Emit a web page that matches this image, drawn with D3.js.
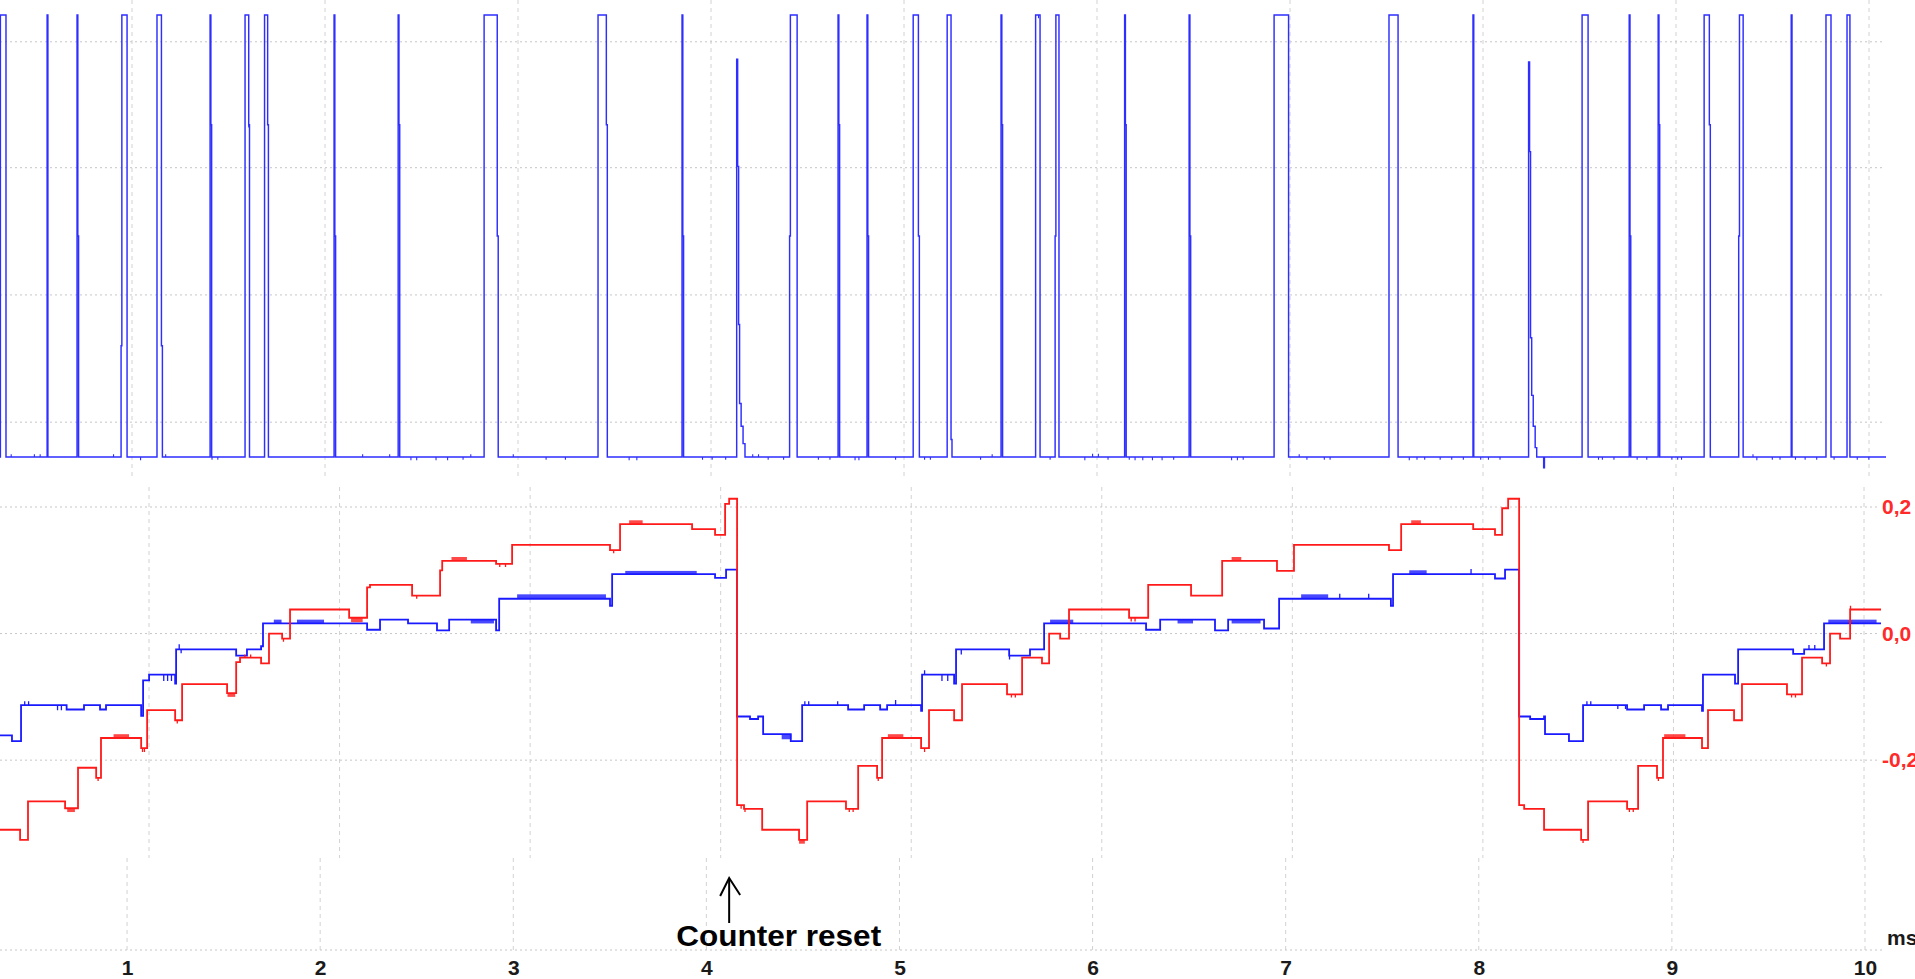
<!DOCTYPE html>
<html><head><meta charset="utf-8">
<script src="https://cdn.jsdelivr.net/npm/d3@7/dist/d3.min.js"></script>
<style>
html,body{margin:0;padding:0;background:#fff;overflow:hidden}
svg{display:block;background:#fff}
</style></head><body>
<svg id="chart" width="1915" height="979"></svg>
<script>
// ---------------- data (time in ms, values in V) ----------------
const xTicks = [1,2,3,4,5,6,7,8,9,10];
const xTickLabels = ["1","2","3","4","5","6","7","8","9","10"];
const xUnit = "ms";
const yTicks = [0.2, 0.0, -0.2];
const yTickLabels = ["0,2","0,0","-0,2"];
const topGridLevels = [0.26, 1.21, 2.16, 3.10];
const annotationTime = 4.118;
const annotationText = "Counter reset";

// digital signal (top panel), step-after points [t, V]
const topTrace = [
[0.342,0],[0.344,3.3],[0.373,0],
[0.586,3.3],[0.590,0],
[0.741,3.3],[0.745,1.65],[0.749,0],
[0.969,0.83],[0.973,3.3],[1.000,0],
[1.155,3.3],[1.178,0.83],[1.183,0],
[1.430,3.3],[1.434,2.48],[1.438,0],
[1.611,3.3],[1.630,2.48],[1.634,0],
[1.712,3.3],[1.728,2.48],[1.732,0],
[2.072,3.3],[2.076,1.65],[2.080,0],
[2.404,3.3],[2.408,2.48],[2.412,0],
[2.849,3.3],[2.917,1.65],[2.922,0],
[3.439,3.3],[3.482,2.48],[3.487,0],
[3.874,3.3],[3.878,1.65],[3.882,0],
[4.157,2.97],[4.162,2.17],[4.167,0.99],[4.172,0.40],[4.180,0.23],[4.190,0.10],[4.200,0],
[4.431,1.65],[4.435,3.3],[4.470,0],
[4.682,3.3],[4.686,2.48],[4.690,0],
[4.832,3.3],[4.836,1.65],[4.840,0],
[5.071,3.3],[5.098,1.65],[5.103,0],
[5.247,3.3],[5.267,0.13],[5.272,0],
[5.526,3.3],[5.530,2.48],[5.534,0],
[5.705,3.3],[5.728,0],
[5.806,1.65],[5.810,3.3],[5.826,0],
[6.166,3.3],[6.170,2.48],[6.174,0],
[6.500,3.3],[6.504,1.65],[6.508,0],
[6.940,3.3],[7.015,0],
[7.535,3.3],[7.582,0],
[7.970,3.3],[7.974,0],
[8.258,2.95],[8.263,2.28],[8.268,0.89],[8.274,0.46],[8.282,0.23],[8.292,0.07],[8.300,0],[8.336,-0.08],[8.340,0],
[8.535,3.3],[8.566,0],
[8.779,3.3],[8.783,1.65],[8.787,0],
[8.929,3.3],[8.933,2.48],[8.937,0],
[9.167,3.3],[9.194,2.48],[9.199,0],
[9.346,1.65],[9.350,3.3],[9.369,0],
[9.618,3.3],[9.622,0],
[9.798,3.3],[9.824,0],
[9.907,3.3],[9.922,0],
[10.109,0]
];
// small glitches on the low level of the digital signal [t, offset V]
const topGlitches = [
[0.40,0.02],[0.52,0.02],[0.55,0.02],[0.93,0.02],[1.07,-0.025],[1.20,0.02],[1.44,-0.02],[1.47,-0.02],[1.63,-0.02],
[2.22,0.02],[2.36,0.02],[2.47,-0.025],[2.50,-0.025],[2.60,-0.025],[2.66,-0.025],[2.74,-0.02],[2.78,0.02],
[3.00,0.02],[3.17,-0.02],[3.27,-0.02],[3.60,-0.025],[3.64,-0.025],[3.98,-0.02],[4.03,-0.02],[4.10,-0.02],
[4.24,0.02],[4.27,0.02],[4.32,-0.02],[4.40,-0.02],[4.58,-0.02],[4.64,-0.02],[4.69,0.025],[4.77,-0.025],[4.79,-0.025],
[4.98,-0.02],[5.13,-0.02],[5.16,-0.02],[5.42,-0.02],[5.48,0.02],[5.72,-0.025],[5.78,-0.02],
[5.96,-0.025],[6.00,0.025],[6.03,0.025],[6.08,-0.02],[6.19,-0.02],[6.22,-0.025],[6.26,-0.025],[6.31,-0.025],[6.36,-0.025],[6.42,-0.02],
[6.72,-0.025],[6.75,-0.025],[6.78,-0.02],[7.07,0.02],[7.11,-0.02],[7.20,-0.02],[7.23,-0.02],
[7.64,-0.025],[7.68,-0.02],[7.72,-0.02],[7.80,-0.02],[7.86,-0.02],[7.92,-0.02],[8.01,-0.02],[8.05,-0.02],[8.11,-0.02],
[8.62,-0.02],[8.64,-0.02],[8.70,-0.02],[8.82,-0.02],[8.87,-0.02],[9.00,-0.02],[9.03,-0.02],[9.05,-0.02],
[9.42,0.02],[9.44,-0.025],[9.52,-0.02],[9.56,-0.02],[9.64,-0.02],[9.69,-0.02],[9.75,-0.02],[9.84,-0.02],[9.96,-0.02],[10.02,-0.02]
];

// counter outputs (bottom panel), step-after points [t, V]
const redSteps = [
[0.342,-0.310],[0.446,-0.326],[0.487,-0.265],[0.679,-0.276],[0.746,-0.212],[0.840,-0.228],[0.865,-0.165],[1.073,-0.181],[1.104,-0.121],[1.249,-0.137],[1.285,-0.080],[1.518,-0.094],[1.565,-0.045],[1.585,-0.038],[1.694,-0.047],[1.735,0.000],[1.803,-0.008],[1.844,0.038],[2.150,0.025],[2.243,0.073],[2.258,0.077],[2.476,0.060],[2.621,0.100],[2.632,0.115],[2.911,0.110],[2.994,0.140],[3.501,0.132],[3.553,0.173],[3.926,0.165],[4.045,0.156],[4.097,0.205],[4.118,0.213],
[4.159,-0.271],[4.195,-0.277],[4.289,-0.310],[4.480,-0.326],[4.522,-0.265],[4.723,-0.277],[4.786,-0.209],[4.884,-0.228],[4.910,-0.165],[5.112,-0.181],[5.153,-0.121],[5.283,-0.137],[5.324,-0.080],[5.557,-0.096],[5.635,-0.038],[5.738,-0.047],[5.775,0.000],[5.832,-0.008],[5.878,0.038],[6.189,0.025],[6.288,0.077],[6.510,0.060],[6.671,0.115],[6.955,0.099],[7.043,0.140],[7.535,0.132],[7.598,0.173],[7.971,0.165],[8.084,0.156],[8.121,0.198],[8.152,0.213],
[8.209,-0.271],[8.235,-0.277],[8.338,-0.310],[8.530,-0.326],[8.566,-0.265],[8.768,-0.277],[8.825,-0.209],[8.923,-0.228],[8.954,-0.165],[9.156,-0.181],[9.187,-0.121],[9.322,-0.137],[9.363,-0.080],[9.596,-0.096],[9.674,-0.038],[9.778,-0.047],[9.819,0.000],[9.871,-0.008],[9.923,0.038],[10.083,0.038]
];
const blueSteps = [
[0.342,-0.161],[0.404,-0.170],[0.451,-0.113],[0.687,-0.120],[0.777,-0.113],[0.860,-0.120],[0.891,-0.113],[1.073,-0.130],[1.083,-0.074],[1.114,-0.065],[1.249,-0.079],[1.254,-0.025],[1.565,-0.035],[1.621,-0.025],[1.694,-0.020],[1.704,0.016],[2.243,0.006],[2.310,0.022],[2.455,0.016],[2.605,0.005],[2.668,0.022],[2.911,0.005],[2.927,0.055],[3.501,0.044],[3.512,0.094],[4.045,0.088],[4.102,0.101],
[4.159,-0.131],[4.226,-0.135],[4.268,-0.131],[4.294,-0.159],[4.437,-0.170],[4.496,-0.113],[4.734,-0.120],[4.817,-0.113],[4.900,-0.120],[4.936,-0.113],[5.112,-0.122],[5.117,-0.065],[5.283,-0.079],[5.293,-0.025],[5.568,-0.035],[5.676,-0.025],[5.749,0.016],[6.277,0.006],[6.350,0.022],[6.634,0.005],[6.702,0.022],[6.888,0.008],[6.966,0.055],[7.545,0.044],[7.556,0.094],[8.084,0.087],[8.136,0.101],
[8.209,-0.131],[8.266,-0.135],[8.338,-0.131],[8.343,-0.159],[8.467,-0.170],[8.540,-0.113],[8.768,-0.120],[8.856,-0.113],[8.944,-0.120],[8.980,-0.113],[9.156,-0.122],[9.161,-0.065],[9.327,-0.079],[9.343,-0.025],[9.628,-0.032],[9.685,-0.025],[9.788,0.016],[10.083,0.016]
];
// isolated noise spikes on the counter traces [t, offset V]
const redGlitches = [
[0.85,-0.005],[1.08,-0.006],[1.09,-0.006],[1.26,-0.005],[1.61,0.005],[1.64,0.005],[1.81,-0.005],[2.50,-0.005],
[2.93,-0.005],[2.96,-0.005],[3.52,-0.005],[4.18,-0.006],[4.20,-0.005],[4.74,-0.005],[4.76,-0.005],[4.89,-0.005],
[5.13,-0.006],[5.58,-0.005],[5.60,-0.005],[6.20,-0.006],[6.22,-0.006],[8.54,-0.005],[8.78,-0.005],[8.80,-0.005],[8.93,-0.005],
[9.62,-0.005],[9.64,-0.005],[9.80,-0.005],[9.925,0.006]
];
const blueGlitches = [
[0.47,0.006],[0.49,0.006],[0.64,-0.008],[0.66,-0.008],[1.19,-0.01],[1.21,-0.01],[1.23,-0.01],[1.27,0.008],[1.28,-0.006],
[4.51,0.006],[4.53,0.006],[4.68,0.006],[4.98,0.008],[5.13,0.007],[5.22,-0.01],[5.25,-0.01],[5.32,-0.008],[5.57,-0.006],
[7.28,0.008],[7.43,0.008],[7.96,0.008],[8.56,0.006],[8.58,0.006],[8.72,-0.006],[8.76,-0.006],[9.71,0.007],[9.74,0.007]
];
// dense noise bursts on the counter traces [tStart, tEnd, offset V]
const redNoise = [
[0.69,0.73,-0.006],[0.93,1.01,0.006],[1.52,1.56,-0.006],[2.16,2.22,-0.007],[2.68,2.76,0.006],[3.60,3.67,0.006],
[4.48,4.51,-0.006],[4.94,5.02,0.006],[6.72,6.77,0.006],[7.65,7.70,0.006],[8.96,9.07,0.006]
];
const blueNoise = [
[1.76,1.80,0.006],[1.88,2.02,0.006],[2.78,2.90,-0.006],[3.02,3.48,0.007],[3.58,3.95,0.005],[4.39,4.44,-0.008],
[5.78,5.90,0.006],[6.44,6.52,-0.006],[6.72,6.87,-0.006],[7.08,7.22,0.007],[7.64,7.73,0.006],[9.81,10.06,0.006]
];

// ---------------- layout ----------------
const W = 1915, H = 979;
const svg = d3.select("#chart");
const x = d3.scaleLinear().domain([0.342, 10.259]).range([0, W]);
const xGridTop = d3.scaleLinear().domain([1, 10]).range([132, 1869]);
const xGridBot = d3.scaleLinear().domain([1, 10]).range([149, 1864]);
const yTop = d3.scaleLinear().domain([0, 3.3]).range([457, 15]);
const yBot = d3.scaleLinear().domain([-0.5, 0.2]).range([950, 507]);

const gridCol = "#c6c6c6";
const labelFont = '"Liberation Sans Narrow","Arial Narrow","Liberation Sans",Arial,sans-serif';

const grid = svg.append("g");
grid.selectAll(".vt").data(xTicks).join("line")
  .attr("x1", d => xGridTop(d)).attr("x2", d => xGridTop(d))
  .attr("y1", 0).attr("y2", 480)
  .attr("stroke", "#d2d2d2").attr("stroke-dasharray", "4,4");
grid.selectAll(".vb").data(xTicks).join("line")
  .attr("x1", d => xGridBot(d)).attr("x2", d => xGridBot(d))
  .attr("y1", 487).attr("y2", 858)
  .attr("stroke", "#d2d2d2").attr("stroke-dasharray", "4,4");
grid.selectAll(".va").data(xTicks).join("line")
  .attr("x1", d => x(d)).attr("x2", d => x(d))
  .attr("y1", 858).attr("y2", 950)
  .attr("stroke", "#d2d2d2").attr("stroke-dasharray", "4,4");
grid.selectAll(".ht").data(topGridLevels).join("line")
  .attr("x1", 0).attr("x2", 1883)
  .attr("y1", d => yTop(d)).attr("y2", d => yTop(d))
  .attr("stroke", gridCol).attr("stroke-dasharray", "2,3");
grid.selectAll(".hb").data(yTicks).join("line")
  .attr("x1", 0).attr("x2", 1877)
  .attr("y1", d => yBot(d)).attr("y2", d => yBot(d))
  .attr("stroke", gridCol).attr("stroke-dasharray", "2,3");
grid.append("line")
  .attr("x1", 0).attr("x2", 1883)
  .attr("y1", yBot(-0.5)).attr("y2", yBot(-0.5))
  .attr("stroke", gridCol).attr("stroke-dasharray", "2,3");

// traces
const lineTop = d3.line().x(d => x(d[0])).y(d => yTop(d[1])).curve(d3.curveStepAfter);
const lineBot = d3.line().x(d => x(d[0])).y(d => yBot(d[1])).curve(d3.curveStepAfter);
const bis = d3.bisector(d => d[0]).right;
function levelAt(steps, t) { return steps[Math.max(0, bis(steps, t) - 1)][1]; }
function glitchPath(steps, gl, ys) {
  return gl.map(g => { const l = levelAt(steps, g[0]); return `M${x(g[0])},${ys(l)}V${ys(l + g[1])}`; }).join("");
}
function drawNoise(steps, bands, ys, col) {
  svg.append("g").selectAll("rect").data(bands).join("rect")
    .attr("x", d => x(d[0])).attr("width", d => x(d[1]) - x(d[0]))
    .attr("y", d => { const l = levelAt(steps, d[0]); return Math.min(ys(l), ys(l + d[2])); })
    .attr("height", d => { const l = levelAt(steps, d[0]); return Math.abs(ys(l) - ys(l + d[2])); })
    .attr("fill", col).attr("opacity", 0.8);
}

svg.append("path").datum(topTrace).attr("d", lineTop)
  .attr("fill", "none").attr("stroke", "#2e2eff").attr("stroke-width", 1.45);
svg.append("path").attr("d", glitchPath(topTrace, topGlitches, yTop))
  .attr("fill", "none").attr("stroke", "#2e2eff").attr("stroke-width", 1.1);

svg.append("path").datum(blueSteps).attr("d", lineBot)
  .attr("fill", "none").attr("stroke", "#1a1aff").attr("stroke-width", 1.8);
drawNoise(blueSteps, blueNoise, yBot, "#1a1aff");
svg.append("path").attr("d", glitchPath(blueSteps, blueGlitches, yBot))
  .attr("fill", "none").attr("stroke", "#1a1aff").attr("stroke-width", 1.3);
svg.append("path").datum(redSteps).attr("d", lineBot)
  .attr("fill", "none").attr("stroke", "#ff1a1a").attr("stroke-width", 1.8);
drawNoise(redSteps, redNoise, yBot, "#ff1a1a");
svg.append("path").attr("d", glitchPath(redSteps, redGlitches, yBot))
  .attr("fill", "none").attr("stroke", "#ff1a1a").attr("stroke-width", 1.3);

// bottom time axis labels
const ax = svg.append("g").attr("transform", `translate(0,${yBot(-0.5)})`)
  .call(d3.axisBottom(x).tickValues(xTicks).tickFormat((d, i) => xTickLabels[i]).tickSize(0).tickPadding(10));
ax.select(".domain").remove();
ax.selectAll("text").style("font-family", labelFont).style("font-weight", "bold")
  .style("font-size", "21px").attr("fill", "#1a1a1a");

svg.append("text").attr("x", 1887).attr("y", 945).text(xUnit)
  .style("font-family", labelFont).style("font-weight", "bold").style("font-size", "21px").attr("fill", "#1a1a1a");

// right value axis labels (red)
const ay = svg.append("g").attr("transform", "translate(1882,0)")
  .call(d3.axisRight(yBot).tickValues(yTicks).tickFormat((d, i) => yTickLabels[i]).tickSize(0).tickPadding(0));
ay.select(".domain").remove();
ay.selectAll("text").style("font-family", labelFont).style("font-weight", "bold")
  .style("font-size", "21px").attr("fill", "#ff2a2a");

// annotation
const axA = x(annotationTime);
const ann = svg.append("g").attr("stroke", "#000").attr("stroke-width", 2).attr("fill", "none");
ann.append("line").attr("x1", axA).attr("x2", axA).attr("y1", 923).attr("y2", 879);
ann.append("polyline").attr("points", `${axA-9},896 ${axA},878 ${axA+11},895`);
svg.append("text").attr("x", axA - 53).attr("y", 946).text(annotationText)
  .attr("textLength", 205).attr("lengthAdjust", "spacingAndGlyphs")
  .style("font-family", '"Liberation Sans",Arial,sans-serif').style("font-weight", "bold")
  .style("font-size", "29px").attr("fill", "#000");
</script>
</body></html>
